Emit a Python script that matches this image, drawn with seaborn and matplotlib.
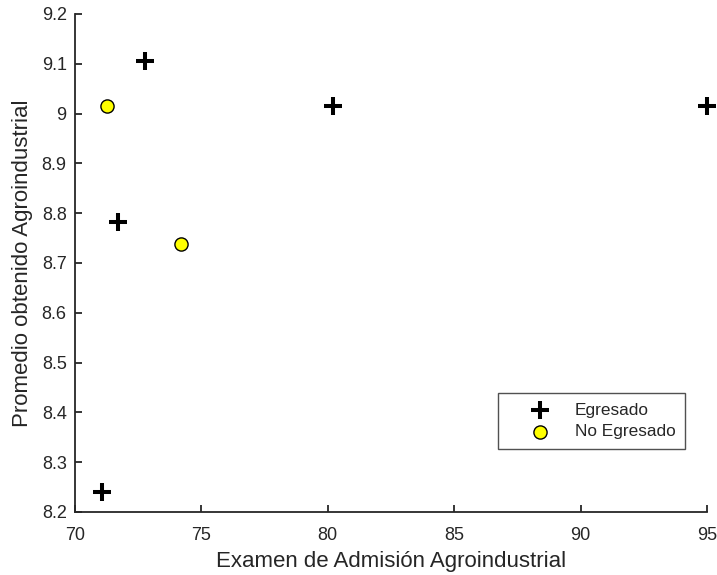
import matplotlib
matplotlib.use("Agg")
import matplotlib.pyplot as plt
import seaborn as sns
import pandas as pd

# Admission exam score vs. average grade, by graduation status
egresado_x = [72.75, 80.2, 95.0, 71.7, 71.05]
egresado_y = [9.105, 9.015, 9.015, 8.782, 8.24]
no_egresado_x = [71.28, 74.2]
no_egresado_y = [9.015, 8.738]
grupos = ["Egresado", "No Egresado"]

df = pd.DataFrame({
    "examen": egresado_x + no_egresado_x,
    "promedio": egresado_y + no_egresado_y,
    "grupo": [grupos[0]] * len(egresado_x) + [grupos[1]] * len(no_egresado_x),
})

sns.set_style("white")
plt.rcParams["font.family"] = ["Liberation Sans", "DejaVu Sans"]

fig = plt.figure(figsize=(7.17, 5.75), dpi=100)
ax = fig.add_axes([0.1046, 0.1096, 0.8814, 0.8661])

sns.scatterplot(data=df[df.grupo == grupos[0]], x="examen", y="promedio",
                marker="+", s=170, color="black", linewidth=2.9,
                ax=ax, label=grupos[0], clip_on=False, zorder=3)
sns.scatterplot(data=df[df.grupo == grupos[1]], x="examen", y="promedio",
                marker="o", s=90, color="#ffff00", edgecolor="black",
                linewidth=1.0, ax=ax, label=grupos[1], clip_on=False, zorder=3)

ax.set_xlim(70, 95)
ax.set_ylim(8.2, 9.2)
ax.set_xticks([70, 75, 80, 85, 90, 95])
ax.set_yticks([8.2, 8.3, 8.4, 8.5, 8.6, 8.7, 8.8, 8.9, 9.0, 9.1, 9.2])
ax.set_yticklabels(["8.2", "8.3", "8.4", "8.5", "8.6", "8.7", "8.8", "8.9", "9", "9.1", "9.2"])
ax.set_xlabel("Examen de Admisión Agroindustrial", fontsize=16, color="#262626", labelpad=5)
ax.set_ylabel("Promedio obtenido Agroindustrial", fontsize=16, color="#262626", labelpad=6)

for side in ["top", "right"]:
    ax.spines[side].set_visible(False)
for side in ["left", "bottom"]:
    ax.spines[side].set_color("#262626")
    ax.spines[side].set_linewidth(1.3)

ax.tick_params(bottom=True, left=True, direction="in", length=5, width=1.3,
               color="#262626", labelsize=13, labelcolor="#262626")
ax.tick_params(axis="x", pad=11)
ax.tick_params(axis="y", pad=6)

leg = ax.legend(loc="upper left", bbox_to_anchor=(0.6946, 0.3165),
                bbox_transform=fig.transFigure, frameon=True,
                fancybox=False, edgecolor="#262626", fontsize=12.4,
                handletextpad=0.17, borderpad=0.57, labelspacing=0.38,
                handlelength=3.72, borderaxespad=0)
leg.get_frame().set_linewidth(1.0)

fig.savefig("out.png", dpi=100)
